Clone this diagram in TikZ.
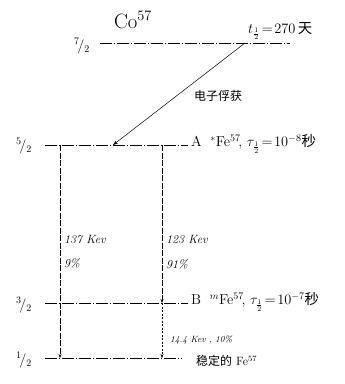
\documentclass[tikz,border=0pt]{standalone}
\usepackage{amsmath}
\usepackage{fontspec}
\newfontfamily\cjk{Noto Sans CJK SC}
\usetikzlibrary{arrows.meta}

\tikzset{
  level/.style={line width=0.6pt,dash pattern=on 12pt off 2pt on 1pt off 2pt},
  gline/.style={line width=0.5pt,dash pattern=on 6pt off 1.5pt,-{Stealth[length=4pt,width=3pt]}},
  lbl/.style={inner sep=1pt,font=\large\itshape},
  lvl/.style={anchor=west,inner sep=1pt,font=\Large},
  spin/.style={inner sep=1pt,font=\Large}
}

\begin{document}
\begin{tikzpicture}[x=1pt,y=-1pt]
\useasboundingbox (0,0) rectangle (345,384);
% Co57 level
\coordinate (co-l) at (100,43);
\coordinate (co-r) at (290,43);
\draw[level] (co-l) -- (co-r);
\node[spin] (spin72) at (82,46) {${}^{7}\!/_{2}$};
\node[font=\huge] (cobalt) at (133,20) {Co$^{57}$};
\node[lbl,anchor=west,font=\Large\itshape] (halfco) at (247,31) {$t_{\frac12}\!=\!270$\,{\cjk\upshape 天}};
% electron capture
\coordinate (ec-top) at (245,43);
\coordinate (ec-bot) at (113,145);
\draw[-{Stealth[length=5pt,width=3.5pt]},line width=0.5pt] (ec-top) -- (ec-bot);
\node[lbl,anchor=west] (ec) at (193,96) {\cjk\upshape 电子俘获};
% 5/2 level
\coordinate (a-l) at (45,145);
\coordinate (a-r) at (188,145);
\draw[level] (a-l) -- (a-r);
\node[spin] (spin52) at (24,146) {${}^{5}\!/_{2}$};
\node[lvl] (lvA) at (190,144)
  {A\; ${}^{*}$Fe$^{57}\!$, $\tau_{\frac12}\!=\!10^{-8}${\cjk 秒}};
% 3/2 level
\coordinate (b-l) at (45,303);
\coordinate (b-r) at (188,303);
\draw[level] (b-l) -- (b-r);
\node[spin] (spin32) at (24,305) {${}^{3}\!/_{2}$};
\node[lvl] (lvB) at (190,302)
  {B\; ${}^{m}$Fe$^{57}\!$, $\tau_{\frac12}\!=\!10^{-7}${\cjk 秒}};
% 1/2 level
\coordinate (g-l) at (45,358);
\coordinate (g-r) at (182,358);
\draw[level] (g-l) -- (g-r);
\node[spin] (spin12) at (24,360) {${}^{1}\!/_{2}$};
\node[lvl,font=\large] (lvG) at (195,361) {{\cjk 稳定的} Fe$^{57}$};
% gamma transitions
\coordinate (g1-top) at (60,145);
\coordinate (g1-bot) at (60,358);
\coordinate (g2-top) at (162,145);
\coordinate (g2-mid) at (162,303);
\coordinate (g2-bot) at (162,358);
\draw[gline] (g1-top) -- (g1-bot);
\draw[gline] (g2-top) -- (g2-mid);
\draw[gline,dash pattern=on 2pt off 1.5pt] (g2-mid) -- (g2-bot);
\node[lbl,anchor=west] (e137) at (63,240) {137 Kev};
\node[lbl,anchor=west] (p9) at (63,263) {9\%};
\node[lbl,anchor=west] (e123) at (165,240) {123 Kev};
\node[lbl,anchor=west] (p91) at (165,264) {91\%};
\node[lbl,anchor=west,font=\small\itshape] (e144) at (169,340) {14.4 Kev , 10\%};
\end{tikzpicture}
\end{document}
